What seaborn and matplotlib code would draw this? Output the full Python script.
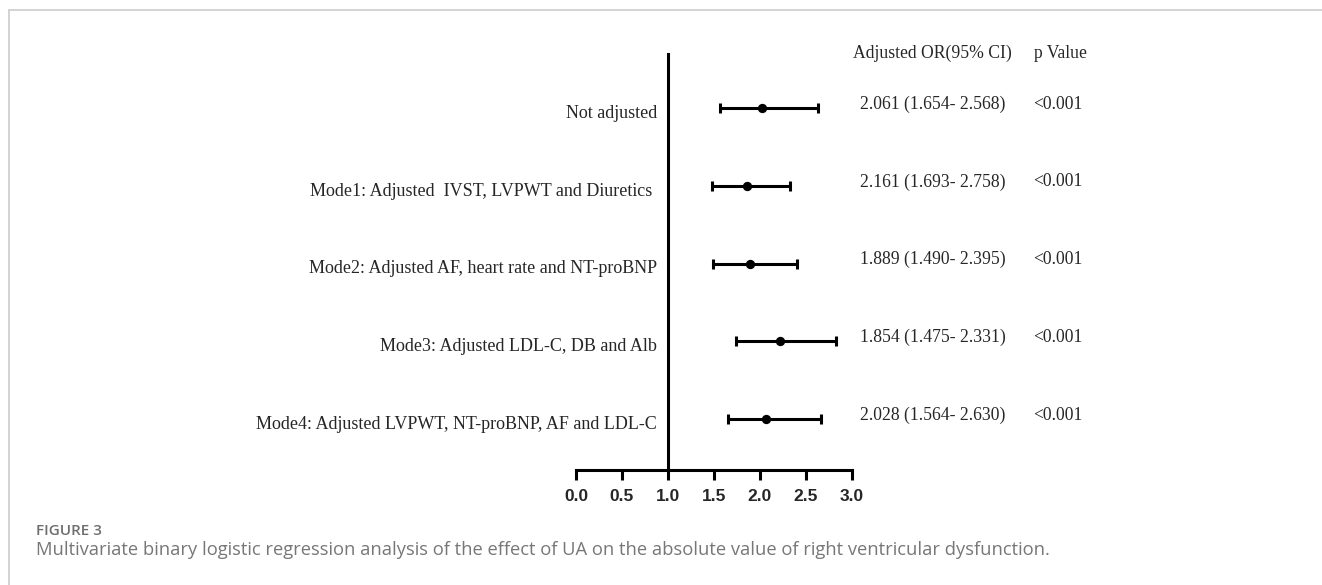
import matplotlib
matplotlib.use("Agg")
import matplotlib.pyplot as plt
import matplotlib.transforms as mtransforms
from matplotlib.lines import Line2D
import seaborn as sns
import pandas as pd

# ---- data ----
models = [
    "Not adjusted",
    "Mode1: Adjusted  IVST, LVPWT and Diuretics ",
    "Mode2: Adjusted AF, heart rate and NT-proBNP",
    "Mode3: Adjusted LDL-C, DB and Alb",
    "Mode4: Adjusted LVPWT, NT-proBNP, AF and LDL-C",
]
or_point = [2.02, 1.855, 1.89, 2.22, 2.06]
ci_low = [1.565, 1.475, 1.486, 1.74, 1.65]
ci_high = [2.63, 2.33, 2.40, 2.83, 2.66]
or_text = [
    "2.061 (1.654- 2.568)",
    "2.161 (1.693- 2.758)",
    "1.889 (1.490- 2.395)",
    "1.854 (1.475- 2.331)",
    "2.028 (1.564- 2.630)",
]
p_text = ["<0.001", "<0.001", "<0.001", "<0.001", "<0.001"]
x_ticks = [0.0, 0.5, 1.0, 1.5, 2.0, 2.5, 3.0]
header_or = "Adjusted OR(95% CI)"
header_p = "p Value"
fig_label = "FIGURE 3"
caption = ("Multivariate binary logistic regression analysis of the effect of UA "
           "on the absolute value of right ventricular dysfunction.")

df = pd.DataFrame({"model": models, "OR": or_point, "lo": ci_low, "hi": ci_high,
                   "row": list(range(len(models)))})

sns.set_style("white")
plt.rcParams["font.family"] = ["Liberation Serif", "DejaVu Serif"]

W, H = 1322, 585
fig = plt.figure(figsize=(W / 100, H / 100), dpi=100)
ax = fig.add_axes([576 / W, 1 - 470 / H, 276 / W, (470 - 54) / H])

# error bars and points
ax.errorbar(df["OR"], df["row"],
            xerr=[df["OR"] - df["lo"], df["hi"] - df["OR"]],
            fmt="none", ecolor="black", elinewidth=2.2, capsize=3.5, capthick=2.2,
            zorder=2)
sns.scatterplot(data=df, x="OR", y="row", ax=ax, color="black", s=45,
                edgecolor="black", linewidth=0, zorder=3, legend=False)

ax.set_xlim(0, 3)
ax.set_ylim(4.656, -0.695)
ax.set_xlabel("")
ax.set_ylabel("")
ax.set_yticks([])
ax.set_xticks(x_ticks)
ax.set_xticklabels([f"{t:.1f}" for t in x_ticks], fontfamily="Liberation Sans",
                   fontweight="bold", fontsize=12.5)
ax.tick_params(axis="x", bottom=True, direction="out", length=7.5, width=2.2,
               pad=6, color="black")
for s in ["top", "right"]:
    ax.spines[s].set_visible(False)
ax.spines["left"].set_position(("data", 1.0))
ax.spines["left"].set_linewidth(2.2)
ax.spines["bottom"].set_linewidth(2.2)
ax.spines["left"].set_color("black")
ax.spines["bottom"].set_color("black")
ax.patch.set_alpha(0)

# row labels (right aligned left of the vertical line) and text columns
blend = mtransforms.blended_transform_factory(fig.transFigure, ax.transData)
for i, (m, ot, pt) in enumerate(zip(models, or_text, p_text)):
    ax.text(657 / W, i + 0.07, m, transform=blend, ha="right", va="center",
            fontsize=13, clip_on=False)
    ax.text(933 / W, i - 0.05, ot, transform=blend, ha="center", va="center",
            fontsize=12.7, clip_on=False)
    ax.text(1058 / W, i - 0.05, pt, transform=blend, ha="center", va="center",
            fontsize=12.7, clip_on=False)

fig.text(932 / W, 1 - 53 / H, header_or, ha="center", va="center", fontsize=12.7)
fig.text(1060 / W, 1 - 53 / H, header_p, ha="center", va="center", fontsize=12.7)

# caption
fig.text(36 / W, 1 - 531 / H, fig_label, ha="left", va="center", fontsize=11,
         family=["Open Sans", "DejaVu Sans"], fontweight="semibold", color="#6e6e6e")
fig.text(36 / W, 1 - 550 / H, caption, ha="left", va="center", fontsize=13.2,
         family=["Open Sans", "DejaVu Sans"], color="#777777")

# light frame
fig.add_artist(Line2D([9 / W, 1], [1 - 10 / H, 1 - 10 / H], transform=fig.transFigure,
                      color="#cccccc", lw=1.2))
fig.add_artist(Line2D([9 / W, 9 / W], [0, 1 - 10 / H], transform=fig.transFigure,
                      color="#cccccc", lw=1.2))

fig.savefig("out.png", dpi=100)
